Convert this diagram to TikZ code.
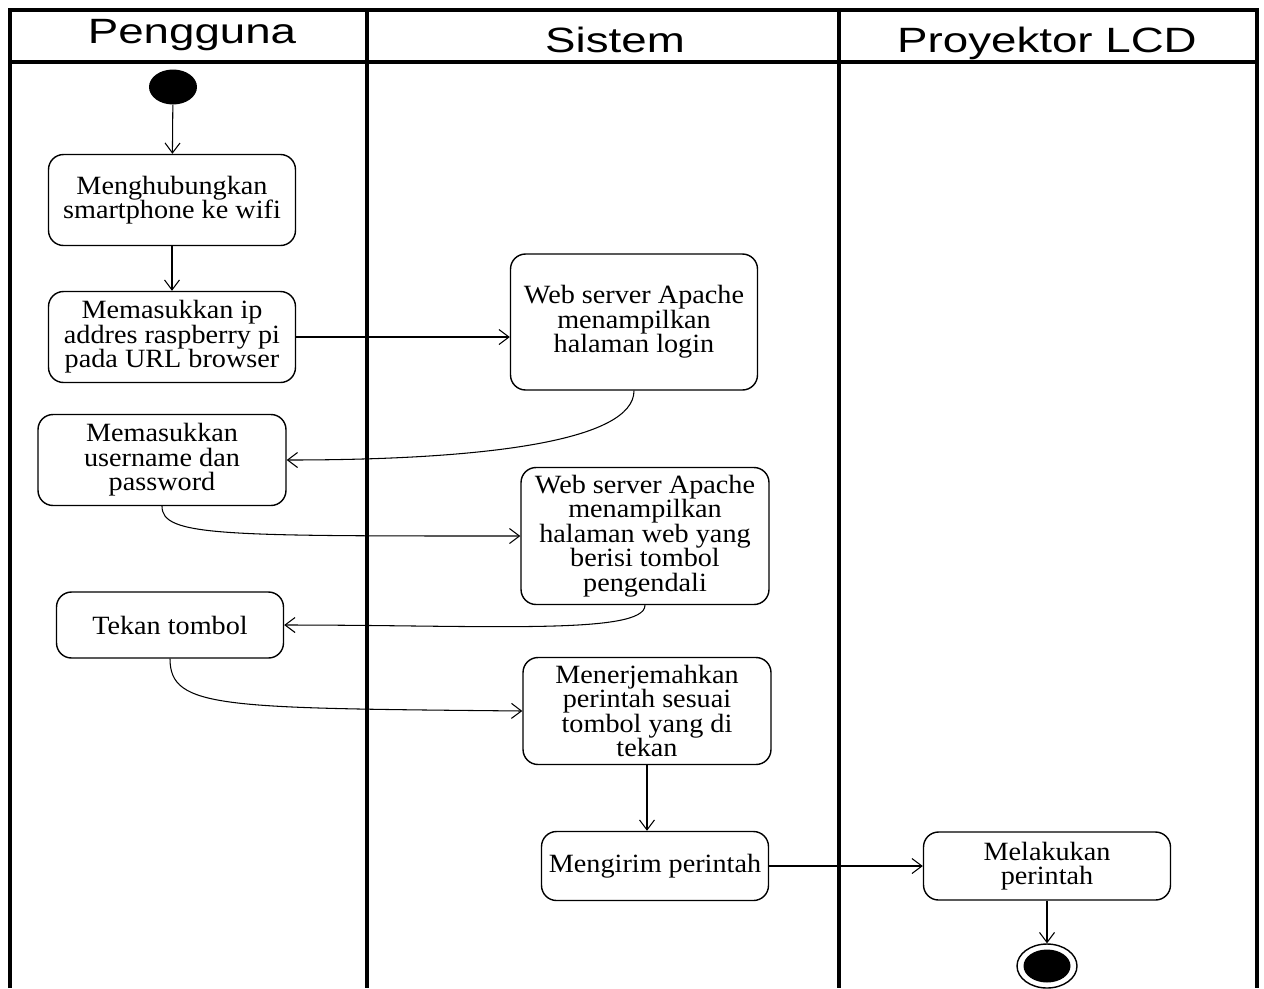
\documentclass[tikz,border=0pt]{standalone}
\usepackage{fontspec}
\setmainfont{Liberation Serif}[FakeStretch=1.07]
\newfontfamily\lanefont{Liberation Sans}[FakeStretch=1.3]
\usetikzlibrary{arrows.meta,shapes.geometric}

\begin{document}
\begin{tikzpicture}[x=0.02cm, y=-0.02cm,
  act/.style={draw, rounded corners=0.3cm, line width=0.8pt, align=center, inner sep=1pt, font=\fontsize{15}{14}\selectfont},
  arr/.style={draw, line width=0.6pt, -{Straight Barb[length=0.2cm,width=0.3cm]}},
  lane/.style={line width=1.8pt},
  hdr/.style={anchor=base, font=\lanefont\fontsize{20}{24}\selectfont}]
  \useasboundingbox (0,0) rectangle (1264,988);

  % swimlanes
  \draw[lane] (10,988) -- (10,10) -- (1257,10) -- (1257,988);
  \draw[lane] (10,62) -- (1257,62);
  \draw[lane] (367,10) -- (367,988);
  \draw[lane] (839,10) -- (839,988);
  \node[hdr] (pengguna) at (192,43) {Pengguna};
  \node[hdr] (sistem) at (615,52) {Sistem};
  \node[hdr] (proyektor) at (1047,52) {Proyektor LCD};

  % activities
  \node[ellipse, fill, minimum width=0.96cm, minimum height=0.7cm, inner sep=0pt] (start) at (173,87) {};
  \node[act, minimum width=4.94cm, minimum height=1.82cm] (hubung) at (172,200) {Menghubungkan\\smartphone ke wifi};
  \node[act, minimum width=4.94cm, minimum height=1.82cm] (ip) at (172,337) {Memasukkan ip\\addres raspberry pi\\pada URL browser};
  \node[act, minimum width=4.94cm, minimum height=2.72cm] (login) at (634,322) {Web server Apache\\menampilkan\\halaman login};
  \node[act, minimum width=4.96cm, minimum height=1.82cm] (userpass) at (162,460) {Memasukkan\\username dan\\password};
  \node[act, minimum width=4.96cm, minimum height=2.74cm] (webpage) at (645,536) {Web server Apache\\menampilkan\\halaman web yang\\berisi tombol\\pengendali};
  \node[act, minimum width=4.54cm, minimum height=1.32cm] (tekan) at (170,625) {Tekan tombol};
  \node[act, minimum width=4.96cm, minimum height=2.14cm] (terjemah) at (647,711) {Menerjemahkan\\perintah sesuai\\tombol yang di\\tekan};
  \node[act, minimum width=4.54cm, minimum height=1.38cm] (kirim) at (655,866) {Mengirim perintah};
  \node[act, minimum width=4.94cm, minimum height=1.36cm] (lakukan) at (1047,866) {Melakukan\\perintah};
  \node[ellipse, draw, line width=0.8pt, minimum width=1.2cm, minimum height=0.88cm] (final) at (1047,966) {};
  \fill (final.center) ellipse [x radius=0.47cm, y radius=0.33cm];

  % flows
  \draw[arr] (start) -- (hubung);
  \draw[arr] (hubung) -- (ip);
  \draw[arr] (ip.east) -- (ip.east -| login.west);
  \draw[arr] (login.south) .. controls +(0,50) and +(200,0) .. (userpass.east);
  \draw[arr] (userpass.south) .. controls +(0,30) and +(-300,0) .. (webpage.west);
  \draw[arr] (webpage.south) .. controls +(0,30) and +(200,0) .. (tekan.east);
  \draw[arr] (tekan.south) .. controls +(0,50) and +(-300,-3) .. (terjemah.west);
  \draw[arr] (terjemah.south) -- (terjemah.south |- kirim.north);
  \draw[arr] (kirim) -- (lakukan);
  \draw[arr] (lakukan) -- (final);
\end{tikzpicture}
\end{document}
